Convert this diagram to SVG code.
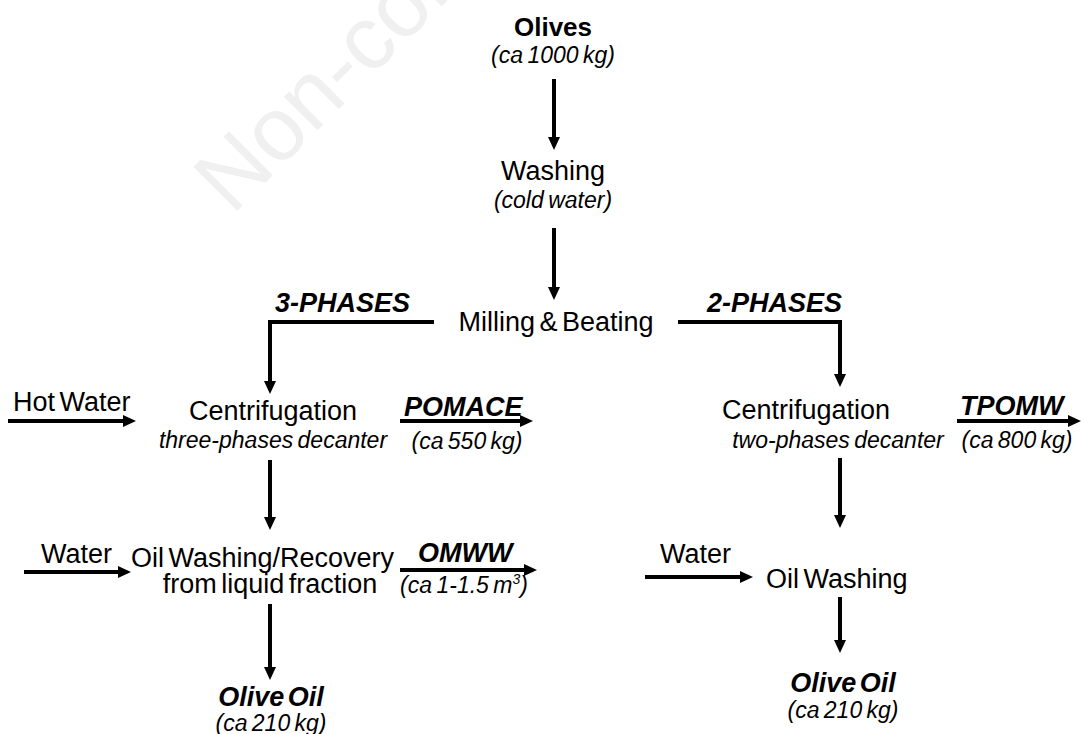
<svg xmlns="http://www.w3.org/2000/svg" width="1081" height="734" viewBox="0 0 1081 734">
<style>
text{font-family:"Liberation Sans",Arial,sans-serif;fill:#000}
.m{font-size:27px;word-spacing:-3px}
.s{font-size:23px;font-style:italic;word-spacing:-2px}
.b{font-size:26px;font-weight:bold}
.bi{font-size:27px;font-weight:bold;font-style:italic;word-spacing:-4px}
.c{text-anchor:middle}
.wm{font-size:90px;fill:#f0f0f0}
.ln{fill:none;stroke:#000;stroke-width:4;marker-end:url(#ah)}
</style>
<defs>
<marker id="ah" viewBox="0 0 13 12" refX="0" refY="6" markerWidth="13" markerHeight="12" markerUnits="userSpaceOnUse" orient="auto">
<path d="M0,0 L13,6 L0,12 Z" fill="#000"/>
</marker>
</defs>
<rect width="1081" height="734" fill="#fff"/>
<text class="wm" transform="translate(232,216) rotate(-45)">Non-com</text>

<g id="connectors">
<path class="ln" d="M554,79 V137"/>
<path class="ln" d="M554,228 V287"/>
<path class="ln" d="M434,322 H270 V381"/>
<path class="ln" d="M678,322 H840 V374"/>
<path class="ln" d="M8,421 H123"/>
<path class="ln" d="M400,421 H520"/>
<path class="ln" d="M957,421 H1068"/>
<path class="ln" d="M270,460 V517"/>
<path class="ln" d="M840,458 V515"/>
<path class="ln" d="M24,572 H118"/>
<path class="ln" d="M400,570 H524"/>
<path class="ln" d="M645,577 H740"/>
<path class="ln" d="M270,604 V667"/>
<path class="ln" d="M840,597 V640"/>
</g>

<g id="olives">
<text class="b c" x="553" y="36">Olives</text>
<text class="s c" x="553" y="63">(ca 1000 kg)</text>
</g>
<g id="washing">
<text class="m c" x="553" y="180">Washing</text>
<text class="s c" x="553" y="208">(cold water)</text>
</g>
<g id="milling">
<text class="m c" x="556" y="331">Milling &amp; Beating</text>
</g>
<g id="three-phases">
<text class="bi" x="275" y="312">3-PHASES</text>
</g>
<g id="two-phases">
<text class="bi" x="707" y="312">2-PHASES</text>
</g>
<g id="hot-water">
<text class="m" x="13" y="411">Hot Water</text>
</g>
<g id="centrifugation-3">
<text class="m c" x="273" y="420">Centrifugation</text>
<text class="s c" x="273" y="448">three-phases decanter</text>
</g>
<g id="pomace">
<text class="bi" x="404" y="416">POMACE</text>
<text class="s c" x="467" y="449">(ca 550 kg)</text>
</g>
<g id="centrifugation-2">
<text class="m c" x="806" y="419">Centrifugation</text>
<text class="s c" x="838" y="448">two-phases decanter</text>
</g>
<g id="tpomw">
<text class="bi" x="960" y="415">TPOMW</text>
<text class="s c" x="1017" y="448">(ca 800 kg)</text>
</g>
<g id="water-3">
<text class="m" x="41" y="563">Water</text>
</g>
<g id="oil-washing-recovery">
<text class="m" x="131" y="567">Oil Washing/Recovery</text>
<text class="m c" x="270" y="593">from liquid fraction</text>
</g>
<g id="omww">
<text class="bi" x="418" y="562">OMWW</text>
<text class="s c" x="464" y="593">(ca 1-1.5 m<tspan font-size="14" dy="-9">3</tspan><tspan dy="9">)</tspan></text>
</g>
<g id="olive-oil-3">
<text class="bi c" x="271" y="706">Olive Oil</text>
<text class="s c" x="271" y="731">(ca 210 kg)</text>
</g>
<g id="water-2">
<text class="m" x="660" y="563">Water</text>
</g>
<g id="oil-washing">
<text class="m" x="766" y="588">Oil Washing</text>
</g>
<g id="olive-oil-2">
<text class="bi c" x="843" y="692">Olive Oil</text>
<text class="s c" x="843" y="718">(ca 210 kg)</text>
</g>
</svg>
